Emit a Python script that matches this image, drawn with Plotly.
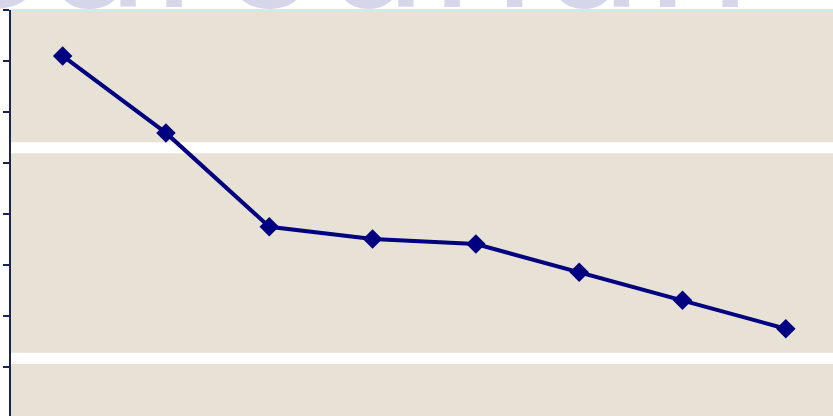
import plotly.graph_objects as go

categories = ["1", "2", "3", "4", "5", "6", "7", "8"]
values = [7.10, 5.59, 3.75, 3.51, 3.41, 2.86, 2.31, 1.75]
y_ticks = [0, 1, 2, 3, 4, 5, 6, 7, 8]

NAVY = "#000080"
BEIGE = "#e8e1d6"

fig = go.Figure()

# faded watermark, mostly cut off above the page
fig.add_annotation(text="Sarounun", xref="paper", yref="paper", x=-0.09, y=0.905,
                   xanchor="left", yanchor="bottom", showarrow=False,
                   font=dict(family="DejaVu Sans", size=170, color="#d6d6ea"))

fig.add_trace(go.Scatter(
    x=categories, y=values, mode="lines+markers",
    line=dict(color=NAVY, width=4),
    marker=dict(symbol="diamond", size=15, color=NAVY),
    showlegend=False, cliponaxis=False,
))

# white texture seams of the background
for y0, y1 in [(0.647, 0.674), (0.128, 0.156)]:
    fig.add_shape(type="rect", xref="paper", yref="paper", x0=0, x1=1, y0=y0, y1=y1,
                  fillcolor="white", line=dict(width=0), layer="below")
fig.add_shape(type="line", xref="paper", yref="paper", x0=0, x1=1, y0=1, y1=1,
              line=dict(color="#c6eeee", width=2), layer="below")

fig.update_layout(
    width=833, height=416,
    margin=dict(l=11, r=0, t=10, b=0),
    paper_bgcolor="white", plot_bgcolor=BEIGE,
    xaxis=dict(type="category", range=[-0.5, 7.457], showgrid=False, zeroline=False,
               showticklabels=False, showline=False, ticks=""),
    yaxis=dict(range=[0.039, 8], tickvals=y_ticks, showgrid=False, zeroline=False,
               showticklabels=False, showline=True, linecolor="#1c2456", linewidth=2,
               ticks="outside", ticklen=6, tickwidth=2, tickcolor="#1c2456"),
)
fig.write_html("out.html")
